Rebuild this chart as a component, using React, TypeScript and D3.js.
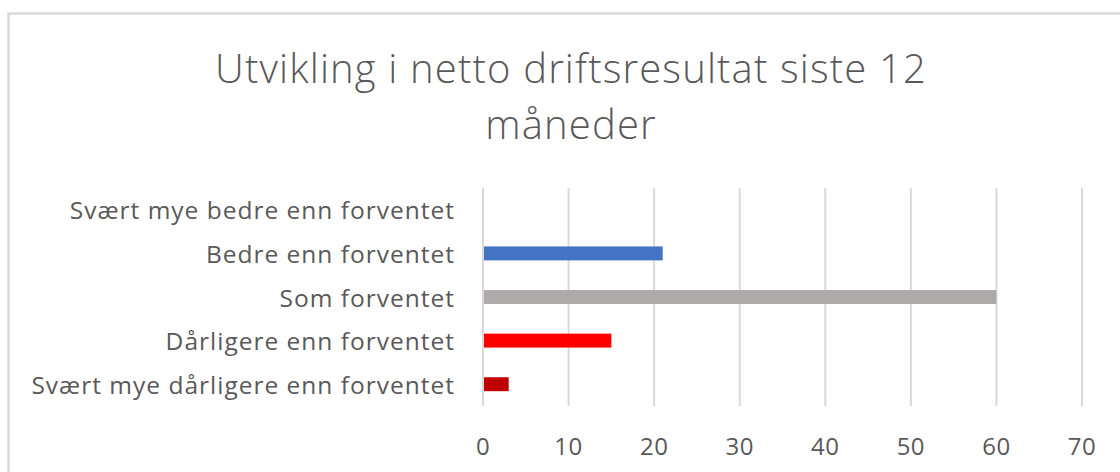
import React, { useRef, useEffect } from 'react';
import * as d3 from 'd3';

const WIDTH = 1120;
const HEIGHT = 472;

const categories = [
  'Svært mye bedre enn forventet',
  'Bedre enn forventet',
  'Som forventet',
  'Dårligere enn forventet',
  'Svært mye dårligere enn forventet',
];
const values = [0, 21, 60, 15, 3];
const barColors = ['#4472C4', '#4472C4', '#AEAAAA', '#FF0000', '#C00000'];
const xTicks = [0, 10, 20, 30, 40, 50, 60, 70];
const titleLines = ['Utvikling i netto driftsresultat siste 12', 'måneder'];

const FONT = '"Open Sans", Lato, sans-serif';
const TEXT_COLOR = '#595959';

const App: React.FC = () => {
  const svgRef = useRef<SVGSVGElement>(null);

  useEffect(() => {
    if (!svgRef.current) return;
    const svg = d3.select(svgRef.current);
    svg.selectAll('*').remove();

    // chart frame (cropped at right/bottom in the reference)
    svg.append('rect')
      .attr('x', 8.5)
      .attr('y', 13.5)
      .attr('width', 1200)
      .attr('height', 600)
      .attr('fill', '#fff')
      .attr('stroke', '#D9D9D9')
      .attr('stroke-width', 2.5);

    const x = d3.scaleLinear().domain([0, 70]).range([483, 1082]);
    const y = d3.scaleBand<string>()
      .domain(categories)
      .range([188, 406])
      .paddingInner(0.68)
      .paddingOuter(0.34);

    // gridlines
    svg.append('g')
      .selectAll('line')
      .data(xTicks)
      .join('line')
      .attr('x1', (d) => x(d))
      .attr('x2', (d) => x(d))
      .attr('y1', 188)
      .attr('y2', 406)
      .attr('stroke', '#D9D9D9')
      .attr('stroke-width', 2);

    // bars
    svg.append('g')
      .selectAll('rect')
      .data(values)
      .join('rect')
      .attr('x', x(0) + 1)
      .attr('y', (_, i) => y(categories[i]) ?? 0)
      .attr('width', (d) => Math.max(0, x(d) - x(0) - 1))
      .attr('height', y.bandwidth())
      .attr('fill', (_, i) => barColors[i]);

    // category labels
    svg.append('g')
      .selectAll('text')
      .data(categories)
      .join('text')
      .attr('x', 455)
      .attr('y', (d) => (y(d) ?? 0) + y.bandwidth() / 2)
      .attr('text-anchor', 'end')
      .attr('dominant-baseline', 'central')
      .attr('fill', TEXT_COLOR)
      .attr('font-size', '24.5px')
      .attr('letter-spacing', '1px')
      .attr('font-family', FONT)
      .text((d) => d);

    // x tick labels
    svg.append('g')
      .selectAll('text')
      .data(xTicks)
      .join('text')
      .attr('x', (d) => x(d))
      .attr('y', 445)
      .attr('text-anchor', 'middle')
      .attr('dominant-baseline', 'central')
      .attr('fill', TEXT_COLOR)
      .attr('font-size', '24px')
      .attr('letter-spacing', '0.5px')
      .attr('font-family', FONT)
      .text((d) => String(d));

    // title
    svg.append('g')
      .selectAll('text')
      .data(titleLines)
      .join('text')
      .attr('x', 571)
      .attr('y', (_, i) => 83 + i * 56)
      .attr('text-anchor', 'middle')
      .attr('fill', TEXT_COLOR)
      .attr('font-size', '40px')
      .attr('font-weight', 300)
      .attr('letter-spacing', '1.15px')
      .attr('font-family', FONT)
      .text((d) => d);
  }, []);

  return (
    <div style={{ position: 'fixed', left: 0, top: 0, width: WIDTH, height: HEIGHT, background: '#fff' }}>
      <svg ref={svgRef} width={WIDTH} height={HEIGHT} viewBox={`0 0 ${WIDTH} ${HEIGHT}`} />
    </div>
  );
};

export default App;
